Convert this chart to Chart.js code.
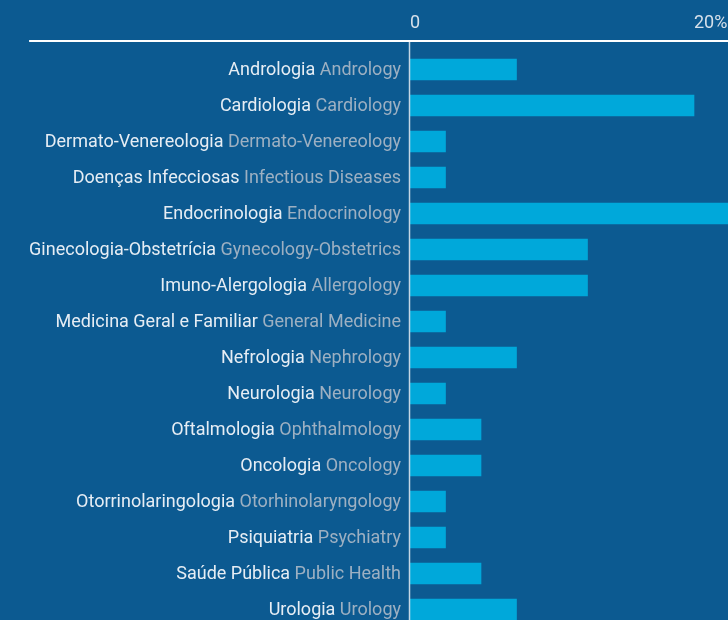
<!DOCTYPE html>
<html>
<head>
<meta charset="utf-8">
<script src="https://cdn.jsdelivr.net/npm/chart.js@4.4.1/dist/chart.umd.min.js"></script>
<style>
	html, body { margin: 0; padding: 0; background: #0c5a91; overflow: hidden; }
	#wrap { position: relative; width: 1000px; height: 640px; }
</style>
</head>
<body>
<div id="wrap"><canvas id="chart"></canvas></div>
<script>
"use strict";

// Data

var specialtiesPt = ["Andrologia", "Cardiologia", "Dermato-Venereologia", "Doenças Infecciosas",
	"Endocrinologia", "Ginecologia-Obstetrícia", "Imuno-Alergologia", "Medicina Geral e Familiar",
	"Nefrologia", "Neurologia", "Oftalmologia", "Oncologia", "Otorrinolaringologia",
	"Psiquiatria", "Saúde Pública", "Urologia"];

var specialtiesEn = ["Andrology", "Cardiology", "Dermato-Venereology", "Infectious Diseases",
	"Endocrinology", "Gynecology-Obstetrics", "Allergology", "General Medicine",
	"Nephrology", "Neurology", "Ophthalmology", "Oncology", "Otorhinolaryngology",
	"Psychiatry", "Public Health", "Urology"];

var shares = [7.5, 20, 2.5, 2.5, 27.5, 12.5, 12.5, 2.5, 7.5, 2.5, 5, 5, 2.5, 2.5, 5, 7.5];

var xTicks = [0, 20, 40];

// Colours and fonts

var BAR = "#00a8da",
	PT_COLOR = "#e6edf4",
	EN_COLOR = "#9db0c2",
	TICK_COLOR = "#d6e0ea",
	FONT = "Roboto";

// two-tone category labels, plus the top rule and the zero line
var bilingualLabels = {
	id: "bilingualLabels",
	afterDatasetsDraw: function (chart) {
		var ctx = chart.ctx,
			x = chart.scales.x,
			y = chart.scales.y,
			zero = x.getPixelForValue(0),
			right = zero - 9,
			widest = 0;

		ctx.save();
		ctx.font = "18px " + FONT;
		ctx.textBaseline = "middle";
		ctx.textAlign = "right";
		for (var i = 0; i < specialtiesPt.length; i++) {
			var yy = y.getPixelForValue(i) + 1,
				en = specialtiesEn[i],
				enW = ctx.measureText(" " + en).width,
				ptW = ctx.measureText(specialtiesPt[i]).width;

			ctx.fillStyle = EN_COLOR;
			ctx.fillText(en, right, yy);
			ctx.fillStyle = PT_COLOR;
			ctx.fillText(specialtiesPt[i], right - enW, yy);
			widest = Math.max(widest, enW + ptW);
		}

		// top rule
		ctx.strokeStyle = "#ffffff";
		ctx.lineWidth = 2;
		ctx.beginPath();
		ctx.moveTo(right - widest, chart.chartArea.top - 10.5);
		ctx.lineTo(chart.width, chart.chartArea.top - 10.5);
		ctx.stroke();

		// zero line
		ctx.strokeStyle = "rgba(230, 236, 242, 0.85)";
		ctx.lineWidth = 1.5;
		ctx.beginPath();
		ctx.moveTo(zero - 0.5, chart.chartArea.top - 9.5);
		ctx.lineTo(zero - 0.5, chart.height);
		ctx.stroke();
		ctx.restore();
	}
};

new Chart(document.getElementById("chart"), {
	type: "bar",
	data: {
		labels: specialtiesPt,
		datasets: [{
			data: shares,
			backgroundColor: BAR,
			borderWidth: 0,
			barThickness: 21
		}]
	},
	options: {
		indexAxis: "y",
		responsive: true,
		maintainAspectRatio: false,
		animation: false,
		events: [],
		layout: { padding: { left: 410, right: 22, top: 0, bottom: 12.5 } },
		plugins: {
			legend: { display: false },
			tooltip: { enabled: false }
		},
		scales: {
			x: {
				position: "top",
				min: xTicks[0],
				max: xTicks[xTicks.length - 1],
				afterFit: function (scale) { scale.height = 51.5; },
				afterBuildTicks: function (scale) {
					scale.ticks = xTicks.map(function (v) { return { value: v }; });
				},
				grid: { display: false, drawTicks: false, tickLength: 0 },
				border: { display: false },
				ticks: {
					align: "start",
					padding: 17,
					color: TICK_COLOR,
					font: { family: FONT, size: 18 },
					callback: function (v) {
						if (v === 0) return "0";
						if (v === xTicks[xTicks.length - 1]) return "";
						return v + "%";
					}
				}
			},
			y: {
				display: false,
				grid: { display: false }
			}
		}
	},
	plugins: [bilingualLabels]
});
</script>
</body>
</html>
